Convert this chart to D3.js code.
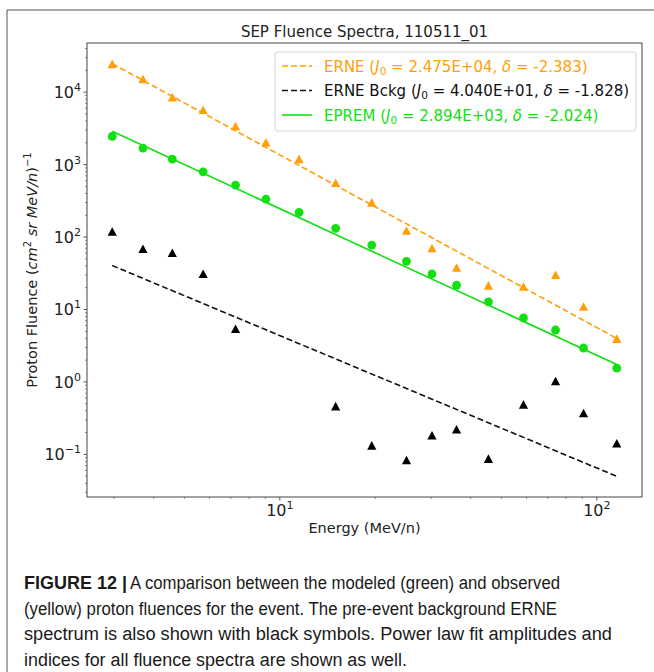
<!DOCTYPE html>
<html>
<head>
<meta charset="utf-8">
<title>SEP Fluence Spectra</title>
<script src="https://d3js.org/d3.v7.min.js"></script>
<style>
  html, body { margin: 0; padding: 0; background: white; }
  svg { display: block; }
</style>
</head>
<body>
<div id="chart"></div>
<script>
// energies (MeV/n)
const energy = [2.96, 3.70, 4.58, 5.73, 7.25, 9.04, 11.5, 15.0, 19.5, 25.1, 30.2, 36.1, 45.5, 58.7, 74.1, 90.8, 115.6];
// fluences
const erne     = [24300, 15100, 8450, 5650, 3370, 2020, 1190, 556, 298, 122, 69.9, 37.7, 21.3, 20.6, 29.9, 10.9, 3.92];
const eprem    = [2450, 1690, 1190, 796, 521, 334, 219, 132, 77.6, 46.2, 30.9, 21.6, 12.7, 7.64, 5.21, 2.94, 1.55];
const erneBckg = [118, 68.3, 60.1, 30.9, 5.38, null, null, 0.46, 0.132, 0.083, 0.182, 0.22, 0.0867, 0.486, 1.02, 0.37, 0.141];

// power law fits: J = J0 * (E/E0)^delta
const fitNames  = ["ERNE", "ERNE Bckg", "EPREM"];
const fitJ0     = [2.475e4, 4.040e1, 2.894e3];
const fitJ0Text = ["2.475E+04", "4.040E+01", "2.894E+03"];
const fitDelta  = [-2.383, -1.828, -2.024];
const fitColors = ["#ff9f0a", "#111111", "#12e012"];
const fitDash   = ["6,3", "6,3", null];

const yTickPowers = [-1, 0, 1, 2, 3, 4];
const xTickPowers = [1, 2];

const W = 654, H = 672;
const plot = { left: 87, right: 642, top: 43, bottom: 497 };

const svg = d3.select("#chart").append("svg")
  .attr("width", W).attr("height", H)
  .style("font-family", "'DejaVu Sans', sans-serif");

svg.append("rect").attr("width", W).attr("height", H).attr("fill", "white");

// figure border (top + left rule)
svg.append("line").attr("x1", 7).attr("x2", W).attr("y1", 10).attr("y2", 10)
  .attr("stroke", "#8a8a8a").attr("stroke-width", 1.5);
svg.append("line").attr("x1", 7).attr("x2", 7).attr("y1", 10).attr("y2", H)
  .attr("stroke", "#8a8a8a").attr("stroke-width", 1.5);

// fit line values
const E0 = energy[0];
const fitLines = fitNames.map((n, i) => energy.map(e => ({ e: e, v: fitJ0[i] * Math.pow(e / E0, fitDelta[i]) })));

// domains with 5% log padding like matplotlib
const lx = d3.extent(energy).map(Math.log10);
const padX = (lx[1] - lx[0]) * 0.05;
const allV = erne.concat(eprem, erneBckg.filter(v => v != null), ...fitLines.map(l => l.map(d => d.v)));
const ly = d3.extent(allV).map(Math.log10);
const padY = (ly[1] - ly[0]) * 0.05;

const x = d3.scaleLog()
  .domain([Math.pow(10, lx[0] - padX), Math.pow(10, lx[1] + padX)])
  .range([plot.left, plot.right]);
const y = d3.scaleLog()
  .domain([Math.pow(10, ly[0] - padY), Math.pow(10, ly[1] + padY)])
  .range([plot.bottom, plot.top]);

// minor / major ticks
function logTicks(scale) {
  const [a, b] = scale.domain();
  const out = [];
  for (let p = Math.floor(Math.log10(a)); p <= Math.ceil(Math.log10(b)); p++) {
    for (let m = 1; m < 10; m++) {
      const v = m * Math.pow(10, p);
      if (v >= a && v <= b) out.push({ v: v, major: m === 1, p: p });
    }
  }
  return out;
}

const axisColor = "#444";

// x axis
const gx = svg.append("g");
logTicks(x).forEach(t => {
  gx.append("line")
    .attr("x1", x(t.v)).attr("x2", x(t.v))
    .attr("y1", plot.bottom).attr("y2", plot.bottom + (t.major ? 3.5 : 2))
    .attr("stroke", axisColor).attr("stroke-width", t.major ? 0.9 : 0.6);
});
xTickPowers.forEach(p => {
  const tx = gx.append("text")
    .attr("x", x(Math.pow(10, p))).attr("y", 516)
    .attr("text-anchor", "middle").style("font-size", "16px").attr("fill", "#222");
  tx.append("tspan").text("10");
  tx.append("tspan").attr("dy", -7).style("font-size", "11px").text(p);
});
svg.append("text")
  .attr("x", (plot.left + plot.right) / 2).attr("y", 533)
  .attr("text-anchor", "middle").style("font-size", "14.5px").attr("fill", "#222")
  .text("Energy (MeV/n)");

// y axis
const gy = svg.append("g");
logTicks(y).forEach(t => {
  gy.append("line")
    .attr("x1", plot.left).attr("x2", plot.left - (t.major ? 3.5 : 2))
    .attr("y1", y(t.v)).attr("y2", y(t.v))
    .attr("stroke", axisColor).attr("stroke-width", t.major ? 0.9 : 0.6);
});
yTickPowers.forEach(p => {
  const ty = gy.append("text")
    .attr("x", 81).attr("y", y(Math.pow(10, p)) + 6)
    .attr("text-anchor", "end").style("font-size", "16px").attr("fill", "#222");
  ty.append("tspan").text("10");
  ty.append("tspan").attr("dy", -7).style("font-size", "11px")
    .text(p < 0 ? "\u2212" + Math.abs(p) : p);
});

// y label
const yl = svg.append("text")
  .attr("transform", `translate(37,${(plot.top + plot.bottom) / 2}) rotate(-90)`)
  .attr("text-anchor", "middle").style("font-size", "14.5px").attr("fill", "#222");
yl.append("tspan").text("Proton Fluence (");
yl.append("tspan").style("font-style", "italic").text("cm");
yl.append("tspan").attr("dy", -6).style("font-size", "10px").text("2");
yl.append("tspan").attr("dy", 6).text(" ");
yl.append("tspan").style("font-style", "italic").text("sr MeV/n");
yl.append("tspan").text(")");
yl.append("tspan").attr("dy", -6).style("font-size", "10px").text("\u22121");

// frame
svg.append("rect")
  .attr("x", plot.left).attr("y", plot.top)
  .attr("width", plot.right - plot.left).attr("height", plot.bottom - plot.top)
  .attr("fill", "none").attr("stroke", axisColor).attr("stroke-width", 1);

// title
svg.append("text")
  .attr("x", (plot.left + plot.right) / 2).attr("y", 37)
  .attr("text-anchor", "middle").style("font-size", "15px").attr("fill", "#222")
  .text("SEP Fluence Spectra, 110511_01");

// fit lines
const line = d3.line().x(d => x(d.e)).y(d => y(d.v));
fitLines.forEach((l, i) => {
  svg.append("path")
    .datum([l[0], l[l.length - 1]])
    .attr("d", line)
    .attr("fill", "none")
    .attr("stroke", fitColors[i])
    .attr("stroke-width", 1.6)
    .attr("stroke-dasharray", fitDash[i]);
});

// markers
const tri = "M0,-4.6L4.6,4L-4.6,4Z";
function triangles(vals, color) {
  svg.append("g").selectAll("path")
    .data(energy.map((e, i) => ({ e: e, v: vals[i] })).filter(d => d.v != null))
    .enter().append("path")
    .attr("d", tri)
    .attr("transform", d => `translate(${x(d.e)},${y(d.v)})`)
    .attr("fill", color);
}
triangles(erne, fitColors[0]);
triangles(erneBckg, "#000");
svg.append("g").selectAll("circle")
  .data(energy.map((e, i) => ({ e: e, v: eprem[i] })))
  .enter().append("circle")
  .attr("cx", d => x(d.e)).attr("cy", d => y(d.v)).attr("r", 4.4)
  .attr("fill", fitColors[2]);

// legend
const lg = svg.append("g");
lg.append("rect")
  .attr("x", 275).attr("y", 52).attr("width", 361).attr("height", 79).attr("rx", 3)
  .attr("fill", "white").attr("fill-opacity", 0.85)
  .attr("stroke", "#d4d4d4").attr("stroke-width", 1);
fitNames.forEach((n, i) => {
  const cy = 66 + i * 24.5;
  lg.append("line")
    .attr("x1", 282).attr("x2", 312).attr("y1", cy).attr("y2", cy)
    .attr("stroke", fitColors[i]).attr("stroke-width", 1.6)
    .attr("stroke-dasharray", fitDash[i]);
  const t = lg.append("text")
    .attr("x", 324).attr("y", cy + 5.5)
    .style("font-size", "15px").attr("fill", fitColors[i]);
  t.append("tspan").text(n + " (");
  t.append("tspan").style("font-style", "italic").text("J");
  t.append("tspan").attr("dy", 3).style("font-size", "10.5px").text("0");
  t.append("tspan").attr("dy", -3).text(" = " + fitJ0Text[i] + ", ");
  t.append("tspan").style("font-style", "italic").text("\u03b4");
  t.append("tspan").text(" = " + fitDelta[i].toFixed(3) + ")");
});

// caption
const captionLead = "FIGURE 12 |";
const captionLines = [
  "A comparison between the modeled (green) and observed",
  "(yellow) proton fluences for the event. The pre-event background ERNE",
  "spectrum is also shown with black symbols. Power law fit amplitudes and",
  "indices for all fluence spectra are shown as well."
];
const captionEnds = [560, 557, 612, 407];
const cap = svg.append("g")
  .style("font-family", "'Liberation Sans Narrow', 'Arial Narrow', 'Liberation Sans', Arial, sans-serif")
  .style("font-size", "18px").attr("fill", "#1a1a1a");
const lead = cap.append("text").attr("x", 24).attr("y", 589)
  .style("font-weight", "bold").text(captionLead);
const leadW = lead.node().getComputedTextLength();
captionLines.forEach((s, i) => {
  const x0 = i === 0 ? 24 + leadW + 3 : 24;
  cap.append("text").attr("x", x0).attr("y", 589 + i * 25.7)
    .attr("textLength", captionEnds[i] - x0).attr("lengthAdjust", "spacingAndGlyphs")
    .text(s);
});
</script>
</body>
</html>
